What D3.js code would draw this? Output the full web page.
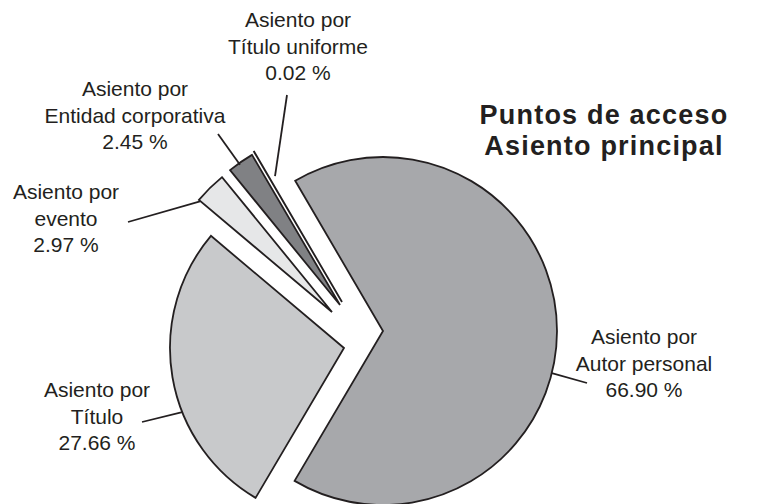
<!DOCTYPE html>
<html lang="es">
<head>
    <meta charset="UTF-8">
    <title>Puntos de acceso - Asiento principal</title>
    <script src="https://d3js.org/d3.v7.min.js"></script>
    <style>
        body { margin: 0; background: #fff; }
        text { font-family: "Liberation Sans", Arial, sans-serif; fill: #231f20; }
    </style>
</head>
<body>
    <div id="chart"></div>

    <script type="text/javascript">
        // datos del gráfico
        var categories = ["Autor personal", "Título", "evento", "Entidad corporativa", "Título uniforme"];
        var values = [66.90, 27.66, 2.97, 2.45, 0.02];
        var labelPrefix = "Asiento por";

        var width = 758;
        var height = 504;
        var radius = 174;

        // centro del pastel y desplazamiento de cada porción (explosión)
        var cx = 360, cy = 325;
        var offsets = [[23, 6], [-16, 23], [-28, -13], [-20, -20], [-18, -23]];

        var colors = ["#a7a8ab", "#c8c9cb", "#e6e7e8", "#808184", "#ffffff"];

        // posición de etiquetas: x central, línea base de la primera línea
        var labelPos = [[644, 344], [97, 397], [66, 199], [135, 96], [298, 27]];
        // líneas guía: ángulo (grados) y fracción del radio donde arranca, y punto final
        var leaders = [
            { angle: 104, rf: 1.0, end: [587, 383] },
            { angle: 248.4, rf: 1.0, end: [142, 422] },
            { angle: 310, rf: 0.99, end: [128, 222] },
            { angle: 324.5, rf: 0.99, end: [218, 134] },
            { angle: 332, rf: 0.82, end: [287, 95] }
        ];
        var lineH = 26.5;

        var svg = d3.select("#chart")
            .append("svg")
            .attr("width", width)
            .attr("height", height);

        var startAngle = -30.3 * Math.PI / 180;
        var pie = d3.pie()
            .sort(null)
            .startAngle(startAngle)
            .endAngle(startAngle + 2 * Math.PI)
            .value(function(d) { return d; });

        var arcs = pie(values);

        var arc = d3.arc()
            .innerRadius(0)
            .outerRadius(radius);

        var slices = svg.append("g")
            .attr("transform", "translate(" + cx + "," + cy + ")");

        slices.selectAll("path")
            .data(arcs)
            .enter()
            .append("path")
            .attr("transform", function(d, i) { return "translate(" + offsets[i][0] + "," + offsets[i][1] + ")"; })
            .attr("d", arc)
            .attr("fill", function(d, i) { return colors[i]; })
            .attr("stroke", "#231f20")
            .attr("stroke-width", 1.8)
            .attr("stroke-linejoin", "miter");

        // líneas guía
        svg.append("g").selectAll("line")
            .data(arcs)
            .enter()
            .append("line")
            .attr("x1", function(d, i) {
                var a = leaders[i].angle * Math.PI / 180;
                return cx + offsets[i][0] + radius * leaders[i].rf * Math.sin(a);
            })
            .attr("y1", function(d, i) {
                var a = leaders[i].angle * Math.PI / 180;
                return cy + offsets[i][1] - radius * leaders[i].rf * Math.cos(a);
            })
            .attr("x2", function(d, i) { return leaders[i].end[0]; })
            .attr("y2", function(d, i) { return leaders[i].end[1]; })
            .attr("stroke", "#231f20")
            .attr("stroke-width", 1.8);

        // etiquetas
        var fmt = d3.format(".2f");
        var labels = svg.append("g").selectAll("text")
            .data(arcs)
            .enter()
            .append("text")
            .attr("text-anchor", "middle")
            .attr("font-size", 21)
            .attr("x", function(d, i) { return labelPos[i][0]; })
            .attr("y", function(d, i) { return labelPos[i][1]; });

        labels.each(function(d, i) {
            var lines = [labelPrefix, categories[i], fmt(values[i]) + " %"];
            var t = d3.select(this);
            lines.forEach(function(s, k) {
                t.append("tspan")
                    .attr("x", labelPos[i][0])
                    .attr("y", labelPos[i][1] + k * lineH)
                    .text(s);
            });
        });

        // título
        var title = svg.append("text")
            .attr("text-anchor", "middle")
            .attr("font-size", 27)
            .attr("font-weight", "bold")
            .attr("letter-spacing", 1.2);
        title.append("tspan").attr("x", 604).attr("y", 124).text("Puntos de acceso");
        title.append("tspan").attr("x", 604).attr("y", 155).text("Asiento principal");
    </script>
</body>
</html>
